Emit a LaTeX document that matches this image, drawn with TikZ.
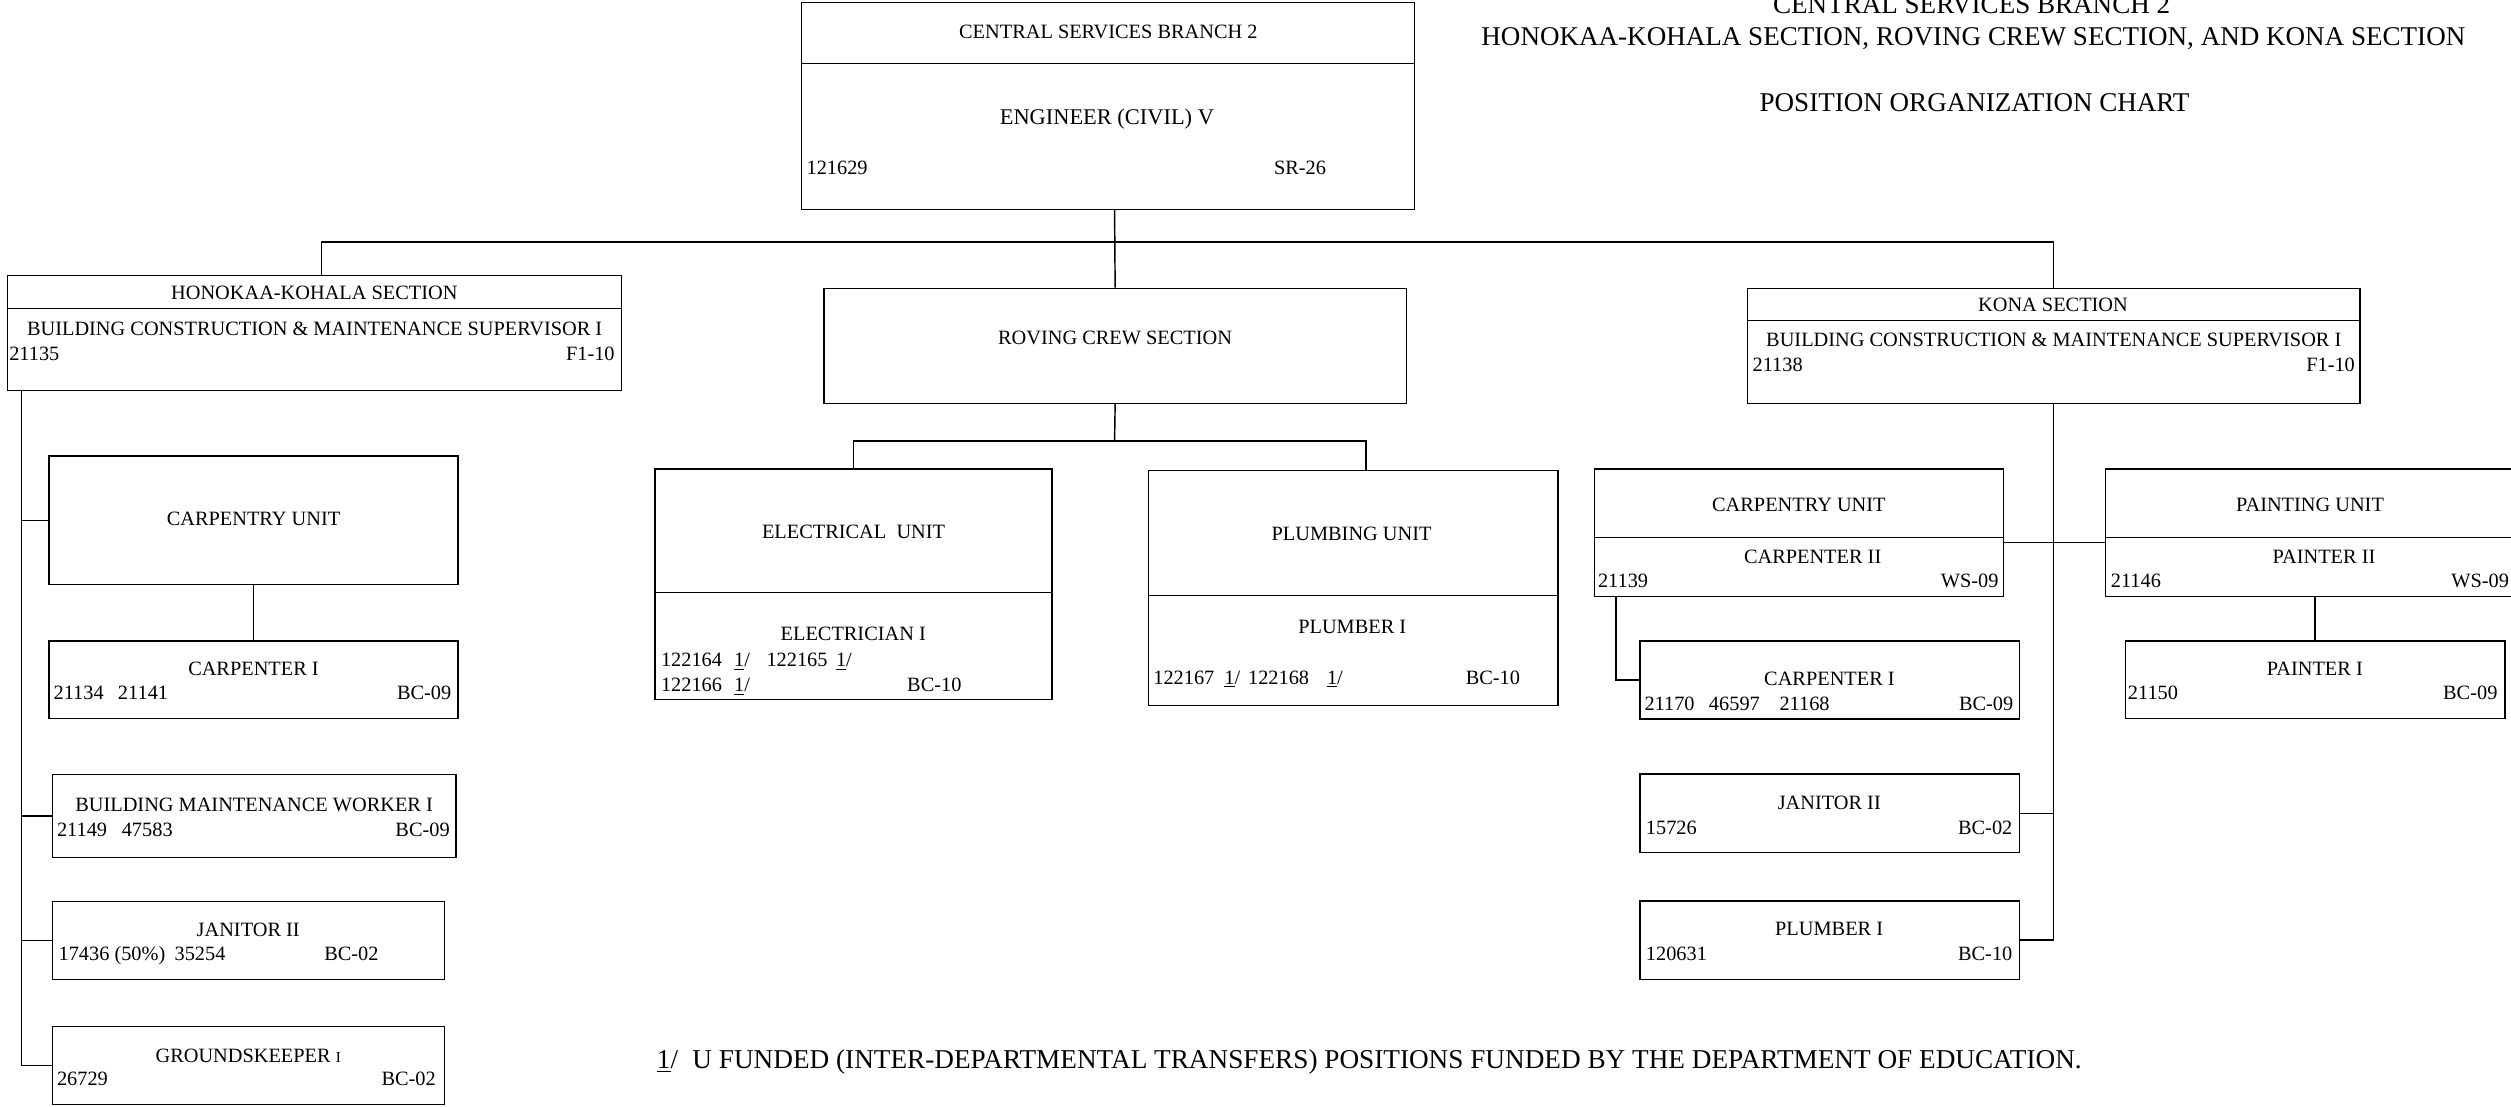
\documentclass[tikz,border=0pt]{standalone}
\usepackage{fontspec}
\setmainfont{Liberation Serif}
\usetikzlibrary{positioning,calc}

\tikzset{
  box/.style={draw, line width=0.9pt, inner sep=0pt},
  txt/.style={inner sep=0pt, text height=8.4pt, text depth=0pt, font=\fontsize{12.7}{15}\selectfont},
  chieftxt/.style={inner sep=0pt, text height=9.3pt, text depth=0pt, font=\fontsize{14}{17}\selectfont},
  head/.style={inner sep=0pt, text height=11.2pt, text depth=0pt, font=\fontsize{16.9}{20}\selectfont},
  link/.style={line width=0.9pt},
}

\begin{document}
\begin{tikzpicture}[x=1pt, y=-1pt]
  \useasboundingbox (0,0) rectangle (1568,691);

  %% Heading
  \node[head] (hd1) at (1231.2,3.1) {CENTRAL SERVICES BRANCH 2};
  \node[head] (hd2) at (1232.3,23) {HONOKAA-KOHALA SECTION, ROVING CREW SECTION, AND KONA SECTION};
  \node[head] (hd3) at (1233,64) {POSITION ORGANIZATION CHART};

  %% Branch chief
  \node[box, minimum width=382.9, minimum height=129] (chief) at (691.85,66.2) {};
  \draw[link] (chief.west |- 0,39.5) -- (chief.east |- 0,39.5);
  \node[txt] (chief-ttl) at (692.1,20.1) {CENTRAL SERVICES BRANCH 2};
  \node[chieftxt] (chief-pos) at (691.2,73.1) {ENGINEER (CIVIL) V};
  \node[txt, anchor=west] (chief-num) at (503.5,104.6) {121629};
  \node[txt, anchor=west] (chief-grd) at (795.4,104.6) {SR-26};

  %% Honokaa-Kohala section
  \node[box, minimum width=383.4, minimum height=72] (hk) at (196.3,208) {};
  \draw[link] (hk.west |- 0,192.5) -- (hk.east |- 0,192.5);
  \node[txt] (hk-ttl) at (196.3,183) {HONOKAA-KOHALA SECTION};
  \node[txt] (hk-pos) at (196.5,205) {BUILDING CONSTRUCTION \& MAINTENANCE SUPERVISOR I};
  \node[txt, anchor=west] (hk-num) at (5.6,220.6) {21135};
  \node[txt, anchor=east] (hk-grd) at (384,220.6) {F1-10};

  \node[box, minimum width=255.4, minimum height=80.1] (hkcu) at (158.3,324.85) {};
  \node[txt] (hkcu-ttl) at (158.3,323.7) {CARPENTRY UNIT};

  \node[box, minimum width=255.4, minimum height=48.5] (hkcp) at (158.3,424.55) {};
  \node[txt] (hkcp-ttl) at (158.3,417.6) {CARPENTER I};
  \node[txt, anchor=west] (hkcp-num) at (33.3,432.9) {21134\hspace{8.9pt}21141};
  \node[txt, anchor=east] (hkcp-grd) at (282,432.9) {BC-09};

  \node[box, minimum width=252.1, minimum height=52.1] (hkbm) at (158.75,509.55) {};
  \node[txt] (hkbm-ttl) at (158.7,502.3) {BUILDING MAINTENANCE WORKER I};
  \node[txt, anchor=west] (hkbm-num) at (35.4,517.9) {21149\hspace{9.2pt}47583};
  \node[txt, anchor=east] (hkbm-grd) at (281,517.9) {BC-09};

  \node[box, minimum width=244.8, minimum height=48.7] (hkjn) at (155.1,587.15) {};
  \node[txt] (hkjn-ttl) at (155,580.3) {JANITOR II};
  \node[txt, anchor=west] (hkjn-num) at (36.4,595.3) {17436 (50\%)\hspace{5.8pt}35254};
  \node[txt, anchor=west] (hkjn-grd) at (202.3,595.3) {BC-02};

  \node[box, minimum width=244.8, minimum height=48.5] (hkgk) at (155.1,665.35) {};
  \node[txt] (hkgk-ttl) at (155,659.2) {GROUNDSKEEPER {\fontsize{9.5}{10}\selectfont I}};
  \node[txt, anchor=west] (hkgk-num) at (35.4,673.8) {26729};
  \node[txt, anchor=east] (hkgk-grd) at (272.3,673.8) {BC-02};

  %% Roving crew section
  \node[box, minimum width=363.7, minimum height=71.9] (rov) at (696.35,215.95) {};
  \node[txt] (rov-ttl) at (696.3,210.9) {ROVING CREW SECTION};

  \node[box, minimum width=248.1, minimum height=143.8] (elec) at (532.95,364.8) {};
  \draw[link] (elec.west |- 0,370.1) -- (elec.east |- 0,370.1);
  \node[txt] (elec-ttl) at (533,332) {ELECTRICAL\ \ UNIT};
  \node[txt] (elec-pos) at (532.8,395.9) {ELECTRICIAN I};
  \node[txt, anchor=west] (elec-num1) at (412.6,412.1) {122164\hspace{7.5pt}\underline{1}/\hspace{10.4pt}122165\hspace{5.3pt}\underline{1}/};
  \node[txt, anchor=west] (elec-num2) at (412.6,427.7) {122166\hspace{7.5pt}\underline{1}/};
  \node[txt, anchor=west] (elec-grd) at (566.3,427.7) {BC-10};

  \node[box, minimum width=255.9, minimum height=146.8] (plmb) at (844.95,367.3) {};
  \draw[link] (plmb.west |- 0,372) -- (plmb.east |- 0,372);
  \node[txt] (plmb-ttl) at (844,333.5) {PLUMBING UNIT};
  \node[txt] (plmb-pos) at (844.4,391.3) {PLUMBER I};
  \node[txt, anchor=west] (plmb-num) at (720,423.2) {122167\hspace{6.3pt}\underline{1}/\hspace{4.9pt}122168\hspace{11.2pt}\underline{1}/};
  \node[txt, anchor=west] (plmb-grd) at (915.1,423.2) {BC-10};

  %% Kona section
  \node[box, minimum width=382.5, minimum height=71.9] (kona) at (1282.45,215.95) {};
  \draw[link] (kona.west |- 0,200.2) -- (kona.east |- 0,200.2);
  \node[txt] (kona-ttl) at (1282,190.5) {KONA SECTION};
  \node[txt] (kona-pos) at (1282.5,211.9) {BUILDING CONSTRUCTION \& MAINTENANCE SUPERVISOR I};
  \node[txt, anchor=west] (kona-num) at (1094.2,227.9) {21138};
  \node[txt, anchor=east] (kona-grd) at (1470.7,227.9) {F1-10};

  \node[box, minimum width=255.5, minimum height=79.7] (kcu) at (1123.35,332.75) {};
  \draw[link] (kcu.west |- 0,335.7) -- (kcu.east |- 0,335.7);
  \node[txt] (kcu-ttl) at (1123.3,314.9) {CARPENTRY UNIT};
  \node[txt] (kcu-pos) at (1131.9,347.6) {CARPENTER II};
  \node[txt, anchor=west] (kcu-num) at (997.7,362.6) {21139};
  \node[txt, anchor=east] (kcu-grd) at (1248.2,362.6) {WS-09};

  \node[box, minimum width=257.1, minimum height=79.7] (kpu) at (1443.45,332.75) {};
  \draw[link] (kpu.west |- 0,335.7) -- (kpu.east |- 0,335.7);
  \node[txt] (kpu-ttl) at (1442.5,314.9) {PAINTING UNIT};
  \node[txt] (kpu-pos) at (1451.2,347.6) {PAINTER II};
  \node[txt, anchor=west] (kpu-num) at (1317.9,362.6) {21146};
  \node[txt, anchor=east] (kpu-grd) at (1566.9,362.6) {WS-09};

  \node[box, minimum width=237, minimum height=48.7] (kcp) at (1142.6,424.65) {};
  \node[txt] (kcp-ttl) at (1142.4,423.8) {CARPENTER I};
  \node[txt, anchor=west] (kcp-num) at (1026.7,439.2) {21170\hspace{9pt}46597\hspace{12.3pt}21168};
  \node[txt, anchor=east] (kcp-grd) at (1257.4,439.2) {BC-09};

  \node[box, minimum width=237, minimum height=48.5] (kpt) at (1445.7,424.55) {};
  \node[txt] (kpt-ttl) at (1445.5,417.8) {PAINTER I};
  \node[txt, anchor=west] (kpt-num) at (1328.6,432.9) {21150};
  \node[txt, anchor=east] (kpt-grd) at (1559.7,432.9) {BC-09};

  \node[box, minimum width=236.9, minimum height=49.2] (kjn) at (1142.55,507.9) {};
  \node[txt] (kjn-ttl) at (1142.3,501.2) {JANITOR II};
  \node[txt, anchor=west] (kjn-num) at (1027.6,516.8) {15726};
  \node[txt, anchor=east] (kjn-grd) at (1256.8,516.8) {BC-02};

  \node[box, minimum width=236.9, minimum height=48.9] (kpl) at (1142.55,587.05) {};
  \node[txt] (kpl-ttl) at (1142.2,579.7) {PLUMBER I};
  \node[txt, anchor=west] (kpl-num) at (1027.6,595.7) {120631};
  \node[txt, anchor=east] (kpl-grd) at (1256.8,595.7) {BC-10};

  %% Footnote
  \node[head, anchor=west, font=\fontsize{17}{20}\selectfont] (note) at (410,661.9) {\underline{1}/\hspace{9pt}U FUNDED (INTER-DEPARTMENTAL TRANSFERS) POSITIONS FUNDED BY THE DEPARTMENT OF EDUCATION.};

  %% Connectors
  \coordinate (bus) at (696,151);
  \draw[link] (chief.south -| bus) -- (rov.north);
  \draw[link] ([xshift=4.5]hk.north) |- (bus) -| (kona.north);

  \coordinate (hktrunk) at (13.3,0);
  \draw[link] (hk.south -| hktrunk) |- (hkgk.west);
  \foreach \nm in {hkcu,hkbm,hkjn} \draw[link] (\nm.west) -- (\nm.west -| hktrunk);
  \draw[link] (hkcu.south) -- (hkcp.north);

  \coordinate (rovbus) at (696,275.4);
  \draw[link] (rov.south) -- (rovbus);
  \draw[link] (elec.north) |- (rovbus) -| ([xshift=8]plmb.north);

  \draw[link] (kona.south) |- (kpl.east);
  \draw[link] (kjn.east) -- (kjn.east -| kona.south);
  \draw[link] (kcu.east |- 0,338.9) -- (kpu.west |- 0,338.9);
  \draw[link] (kcp.west) -| (kcu.south -| 1009.2,0);
  \draw[link] (kpu.south -| kpt.north) -- (kpt.north);
\end{tikzpicture}
\end{document}
